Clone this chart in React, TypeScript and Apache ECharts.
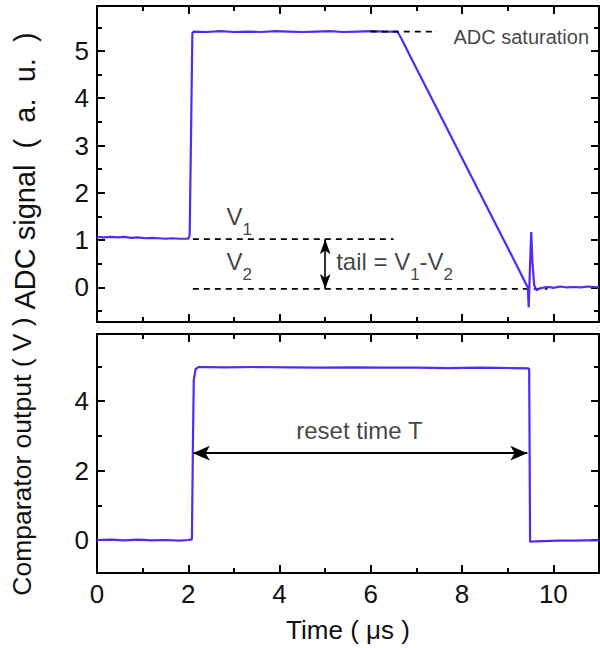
import React, { useEffect, useRef } from "react";
import * as echarts from "echarts";

const FONT = "'Liberation Sans', Arial, Helvetica, sans-serif";
const TRACE = "#5528F5";

// ---- ADC signal (top panel) ----
const adcTime = [
  0, 0.15, 0.3, 0.45, 0.6, 0.75, 0.9, 1.05, 1.2, 1.35, 1.5, 1.65, 1.8, 1.95, 2.0, 2.03, 2.06, 2.09, 2.12,
  2.4, 2.7, 3.0, 3.3, 3.6, 3.9, 4.2, 4.5, 4.8, 5.1, 5.4, 5.7, 6.0, 6.3, 6.58,
  6.66, 7.0, 7.57, 8.0, 8.53, 9.0, 9.3, 9.44,
  9.46, 9.49, 9.515, 9.54, 9.58, 9.63, 9.7, 9.8, 9.9, 10.0, 10.15, 10.3, 10.45, 10.6, 10.75, 10.9, 11.0,
];
const adcSignal = [
  1.07, 1.06, 1.07, 1.06, 1.07, 1.05, 1.06, 1.04, 1.05, 1.04, 1.03, 1.04, 1.03, 1.03, 1.03, 1.1, 3.2, 5.38, 5.41,
  5.4, 5.42, 5.4, 5.41, 5.4, 5.42, 5.41, 5.4, 5.41, 5.42, 5.4, 5.41, 5.42, 5.41, 5.41,
  5.28, 4.63, 3.55, 2.73, 1.73, 0.84, 0.27, 0.0,
  -0.42, 0.5, 1.17, 0.55, 0.05, -0.06, -0.02, 0.0, 0.01, -0.01, 0.02, 0.0, 0.01, 0.0, 0.02, 0.01, 0.01,
];

// ---- Comparator output (bottom panel) ----
const cmpTime = [
  0, 0.3, 0.6, 0.9, 1.2, 1.5, 1.8, 2.0, 2.08, 2.1, 2.12, 2.16, 2.22,
  2.8, 3.5, 4.2, 4.9, 5.6, 6.3, 7.0, 7.7, 8.4, 9.1, 9.45, 9.47, 9.49,
  9.6, 9.8, 10.1, 10.4, 10.7, 11.0,
];
const cmpOutput = [
  0.0, 0.01, -0.01, 0.01, -0.01, 0.0, -0.02, 0.0, 0.02, 2.5, 4.6, 4.92, 4.98,
  4.97, 4.98, 4.97, 4.96, 4.97, 4.96, 4.96, 4.95, 4.96, 4.95, 4.94, 4.92, -0.05,
  -0.04, -0.03, -0.02, -0.02, -0.01, -0.01,
];

// ---- axes ----
const timeRange = [0, 11];
const adcRange = [-0.73, 5.95];
const cmpRange = [-0.95, 5.93];
const xTickValues = [0, 2, 4, 6, 8, 10];
const xMinorValues = [1, 3, 5, 7, 9];
const adcTickValues = [0, 1, 2, 3, 4, 5];
const adcMinorValues = [-0.5, 0.5, 1.5, 2.5, 3.5, 4.5, 5.5];
const cmpTickValues = [0, 2, 4];
const cmpMinorValues = [1, 3, 5];

// ---- annotations (data coordinates) ----
const saturationTimes = [6.0, 7.45];
const saturationLevel = 5.41;
const v1Times = [2.1, 6.5];
const v1Level = 1.02;
const v2Times = [2.1, 9.87];
const v2Level = -0.03;
const tailArrowTime = 5.0;
const resetArrowTimes = [2.1, 9.43];
const resetArrowLevel = 2.5;

const topLabels = [
  { text: "ADC saturation", x: 7.81, y: 5.3, kind: "plain" },
  { text: "{v|V}{s|1}", x: 2.84, y: 1.5, kind: "rich" },
  { text: "{v|V}{s|2}", x: 2.84, y: 0.55, kind: "rich" },
  { text: "{v|tail = V}{s|1}{v|-V}{s|2}", x: 5.24, y: 0.55, kind: "rich" },
];
const bottomLabels = [{ text: "reset time T", x: 5.75, y: 3.15 }];

function zip(xs: number[], ys: number[]) {
  return xs.map((x, i) => [x, ys[i]]);
}

function axis(o: any) {
  return {
    type: "value",
    gridIndex: o.grid,
    min: o.range[0],
    max: o.range[1],
    position: o.position,
    axisLine: { show: o.line, onZero: false, lineStyle: { color: "#000", width: 2 } },
    axisTick: {
      show: true,
      inside: true,
      length: o.len,
      customValues: o.ticks,
      lineStyle: { color: "#000", width: 2 },
    },
    axisLabel: o.labels
      ? {
          show: true,
          customValues: o.ticks,
          color: "#111",
          fontFamily: FONT,
          fontSize: 26,
          margin: o.margin,
        }
      : { show: false },
    splitLine: { show: false },
    minorTick: { show: false },
    name: o.name || "",
    nameLocation: "middle",
    nameGap: o.nameGap || 0,
    nameTextStyle: {
      color: "#111",
      fontFamily: FONT,
      fontSize: o.nameSize || 26,
      padding: o.namePad || 0,
    },
  };
}

function labelSeries(xi: number, yi: number, items: any[]) {
  return {
    type: "scatter",
    xAxisIndex: xi,
    yAxisIndex: yi,
    symbolSize: 0,
    silent: true,
    z: 10,
    data: items,
  };
}

const richStyles = {
  v: { fontFamily: FONT, fontSize: 24, color: "#111", lineHeight: 30 },
  s: { fontFamily: FONT, fontSize: 17, color: "#111", lineHeight: 17, padding: [26, 0, 0, 0] },
};

export default function App() {
  const ref = useRef<HTMLDivElement>(null);
  useEffect(() => {
    if (!ref.current) return;
    const chart = echarts.init(ref.current, null, { renderer: "svg" });
    const dashed = { color: "#000", width: 1.7, type: [6, 5] as any };
    const option: any = {
      animation: false,
      backgroundColor: "#fff",
      grid: [
        { left: 97, top: 6, width: 502, height: 316, outerBoundsMode: "none", containLabel: false },
        { left: 97, top: 334, width: 502, height: 239, outerBoundsMode: "none", containLabel: false },
      ],
      xAxis: [
        axis({ grid: 0, range: timeRange, position: "bottom", line: true, len: 8, ticks: xTickValues }),
        axis({ grid: 0, range: timeRange, position: "bottom", line: false, len: 5, ticks: xMinorValues }),
        axis({ grid: 0, range: timeRange, position: "top", line: true, len: 8, ticks: xTickValues }),
        axis({ grid: 0, range: timeRange, position: "top", line: false, len: 5, ticks: xMinorValues }),
        axis({
          grid: 1, range: timeRange, position: "bottom", line: true, len: 8, ticks: xTickValues,
          labels: true, margin: 8, name: "Time ( \u03bcs )", nameGap: 44,
        }),
        axis({ grid: 1, range: timeRange, position: "bottom", line: false, len: 5, ticks: xMinorValues }),
        axis({ grid: 1, range: timeRange, position: "top", line: true, len: 8, ticks: xTickValues }),
        axis({ grid: 1, range: timeRange, position: "top", line: false, len: 5, ticks: xMinorValues }),
      ],
      yAxis: [
        axis({
          grid: 0, range: adcRange, position: "left", line: true, len: 8, ticks: adcTickValues,
          labels: true, margin: 8, name: "ADC signal  (  a.  u.  )", nameGap: 58, nameSize: 29,
          namePad: [0, 14, 0, 0],
        }),
        axis({ grid: 0, range: adcRange, position: "left", line: false, len: 5, ticks: adcMinorValues }),
        axis({ grid: 0, range: adcRange, position: "right", line: true, len: 8, ticks: adcTickValues }),
        axis({ grid: 0, range: adcRange, position: "right", line: false, len: 5, ticks: adcMinorValues }),
        axis({
          grid: 1, range: cmpRange, position: "left", line: true, len: 8, ticks: cmpTickValues,
          labels: true, margin: 8, name: "Comparator output ( V )", nameGap: 62, nameSize: 26.5,
          namePad: [0, 6, 0, 0],
        }),
        axis({ grid: 1, range: cmpRange, position: "left", line: false, len: 5, ticks: cmpMinorValues }),
        axis({ grid: 1, range: cmpRange, position: "right", line: true, len: 8, ticks: cmpTickValues }),
        axis({ grid: 1, range: cmpRange, position: "right", line: false, len: 5, ticks: cmpMinorValues }),
      ],
      series: [
        {
          type: "line", xAxisIndex: 0, yAxisIndex: 0, silent: true, symbol: "none",
          data: saturationTimes.map((t) => [t, saturationLevel]), lineStyle: dashed, z: 6,
        },
        {
          type: "line", xAxisIndex: 0, yAxisIndex: 0, silent: true, symbol: "none",
          data: v1Times.map((t) => [t, v1Level]), lineStyle: dashed,
        },
        {
          type: "line", xAxisIndex: 0, yAxisIndex: 0, silent: true, symbol: "none",
          data: v2Times.map((t) => [t, v2Level]), lineStyle: dashed,
          markLine: {
            silent: true,
            symbol: ["arrow", "arrow"],
            symbolSize: [8, 15],
            label: { show: false },
            lineStyle: { color: "#000", type: "solid", width: 1.6 },
            data: [[{ coord: [tailArrowTime, v1Level] }, { coord: [tailArrowTime, v2Level] }]],
          },
        },
        {
          type: "line", xAxisIndex: 0, yAxisIndex: 0, silent: true, symbol: "none",
          data: zip(adcTime, adcSignal), lineStyle: { color: TRACE, width: 2.2 }, z: 5,
        },
        {
          type: "line", xAxisIndex: 4, yAxisIndex: 4, silent: true, symbol: "none",
          data: zip(cmpTime, cmpOutput), lineStyle: { color: TRACE, width: 2.2 }, z: 5,
          markLine: {
            silent: true,
            symbol: ["arrow", "arrow"],
            symbolSize: [11, 17],
            label: { show: false },
            lineStyle: { color: "#000", type: "solid", width: 2 },
            data: [[{ coord: [resetArrowTimes[0], resetArrowLevel] }, { coord: [resetArrowTimes[1], resetArrowLevel] }]],
          },
        },
        labelSeries(
          0,
          0,
          topLabels.map((l) => ({
            value: [l.x, l.y],
            label: {
              show: true,
              position: "right",
              distance: 0,
              formatter: l.text,
              align: "left",
              verticalAlign: "middle",
              fontFamily: FONT,
              fontSize: 20,
              color: "#111",
              rich: l.kind === "rich" ? richStyles : undefined,
            },
          }))
        ),
        labelSeries(
          4,
          4,
          bottomLabels.map((l) => ({
            value: [l.x, l.y],
            label: {
              show: true,
              position: "inside",
              formatter: l.text,
              align: "center",
              verticalAlign: "middle",
              fontFamily: FONT,
              fontSize: 24,
              color: "#111",
            },
          }))
        ),
      ],
    };
    chart.setOption(option);
    return () => chart.dispose();
  }, []);
  return (
    <div
      ref={ref}
      style={{ position: "fixed", left: 0, top: 0, width: 600, height: 648, background: "#fff" }}
    />
  );
}
